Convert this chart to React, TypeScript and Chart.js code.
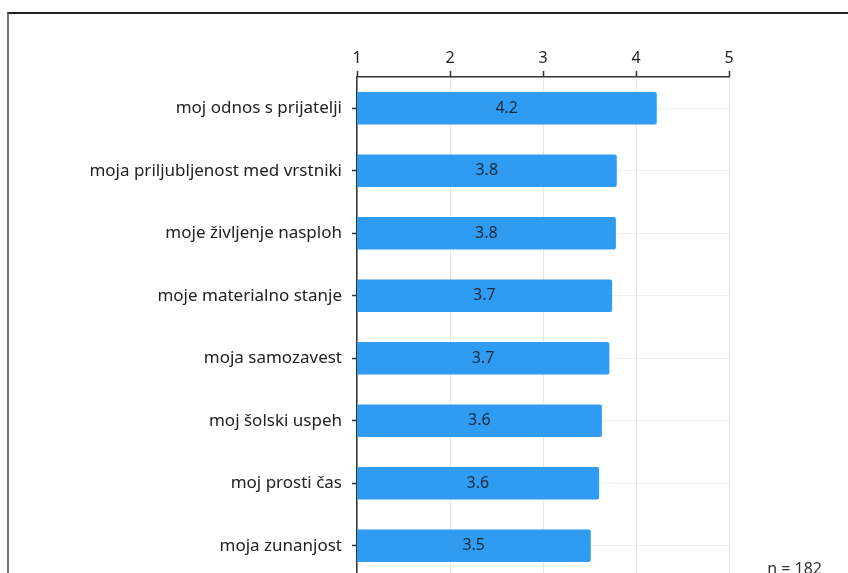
import React, { useEffect, useRef } from "react";
import { Chart, registerables } from "chart.js";

Chart.register(...registerables);

const categories = [
  "moj odnos s prijatelji",
  "moja priljubljenost med vrstniki",
  "moje življenje nasploh",
  "moje materialno stanje",
  "moja samozavest",
  "moj šolski uspeh",
  "moj prosti čas",
  "moja zunanjost",
];
const values = [4.22, 3.79, 3.78, 3.74, 3.71, 3.63, 3.6, 3.51];
const xTicks = [1, 2, 3, 4, 5];
const footnote = "n = 182";

const FONT = "'Noto Sans', 'Open Sans', sans-serif";

export default function App() {
  const ref = useRef<HTMLCanvasElement | null>(null);

  useEffect(() => {
    if (!ref.current) return;
    const valuePlugin = {
      id: "valueLabels",
      afterDatasetsDraw(chart: any) {
        const ctx = chart.ctx;
        const meta = chart.getDatasetMeta(0);
        const left = chart.scales.x.getPixelForValue(chart.scales.x.min);
        ctx.save();
        ctx.font = `16px ${FONT}`;
        ctx.fillStyle = "#172838";
        ctx.textAlign = "center";
        ctx.textBaseline = "middle";
        meta.data.forEach((bar: any, i: number) => {
          const cx = (bar.x + left) / 2;
          ctx.fillText(values[i].toFixed(1), cx, bar.y);
        });
        ctx.restore();
      },
      afterDraw(chart: any) {
        const ctx = chart.ctx;
        ctx.save();
        ctx.font = `16px ${FONT}`;
        ctx.fillStyle = "#333";
        ctx.textAlign = "right";
        ctx.textBaseline = "top";
        ctx.fillText(footnote, 822, 561);
        ctx.restore();
      },
    };

    const chart = new Chart(ref.current, {
      type: "bar",
      data: {
        labels: categories,
        datasets: [
          {
            data: values,
            backgroundColor: "#2f9cf1",
            borderRadius: 2,
            borderSkipped: "start",
            barThickness: 32,
          },
        ],
      },
      options: {
        indexAxis: "y",
        animation: false,
        responsive: false,
        devicePixelRatio: 1,
        layout: { padding: { left: 0, right: 119, top: 0, bottom: 63 } },
        plugins: { legend: { display: false }, tooltip: { enabled: false } },
        scales: {
          x: {
            type: "linear",
            position: "top",
            min: 1,
            max: 5,
            afterBuildTicks(scale: any) {
              scale.ticks = xTicks.map((v) => ({ value: v }));
            },
            afterFit(scale: any) {
              scale.height = 77;
            },
            ticks: {
              font: { family: FONT, size: 16 },
              color: "#222",
              padding: 3,
            },
            grid: {
              color: "#e6e6e6",
              tickColor: "#333",
              tickLength: 6,
              lineWidth: 1,
              tickWidth: 1.5,
            },
            border: { color: "#333", width: 1.5 },
          },
          y: {
            type: "category",
            afterFit(scale: any) {
              scale.width = 357;
            },
            ticks: {
              font: { family: FONT, size: 17 },
              color: "#222",
              padding: 10,
            },
            grid: {
              offset: false,
              color: "#efefef",
              tickColor: "#333",
              tickLength: 5,
              lineWidth: 1,
              tickWidth: 1.5,
            },
            border: { color: "#333", width: 1.5 },
          },
        },
      },
      plugins: [valuePlugin],
    });
    return () => chart.destroy();
  }, []);

  return (
    <div
      style={{
        position: "fixed",
        left: 0,
        top: 0,
        width: 848,
        height: 573,
        overflow: "hidden",
        background: "#fff",
      }}
    >
      <div
        style={{
          position: "absolute",
          left: 7,
          top: 12,
          width: 900,
          height: 700,
          borderTop: "2px solid #222",
          borderLeft: "2px solid #777",
        }}
      />
      <canvas
        ref={ref}
        width={848}
        height={640}
        style={{ position: "absolute", left: 0, top: 0, width: 848, height: 640 }}
      />
    </div>
  );
}
